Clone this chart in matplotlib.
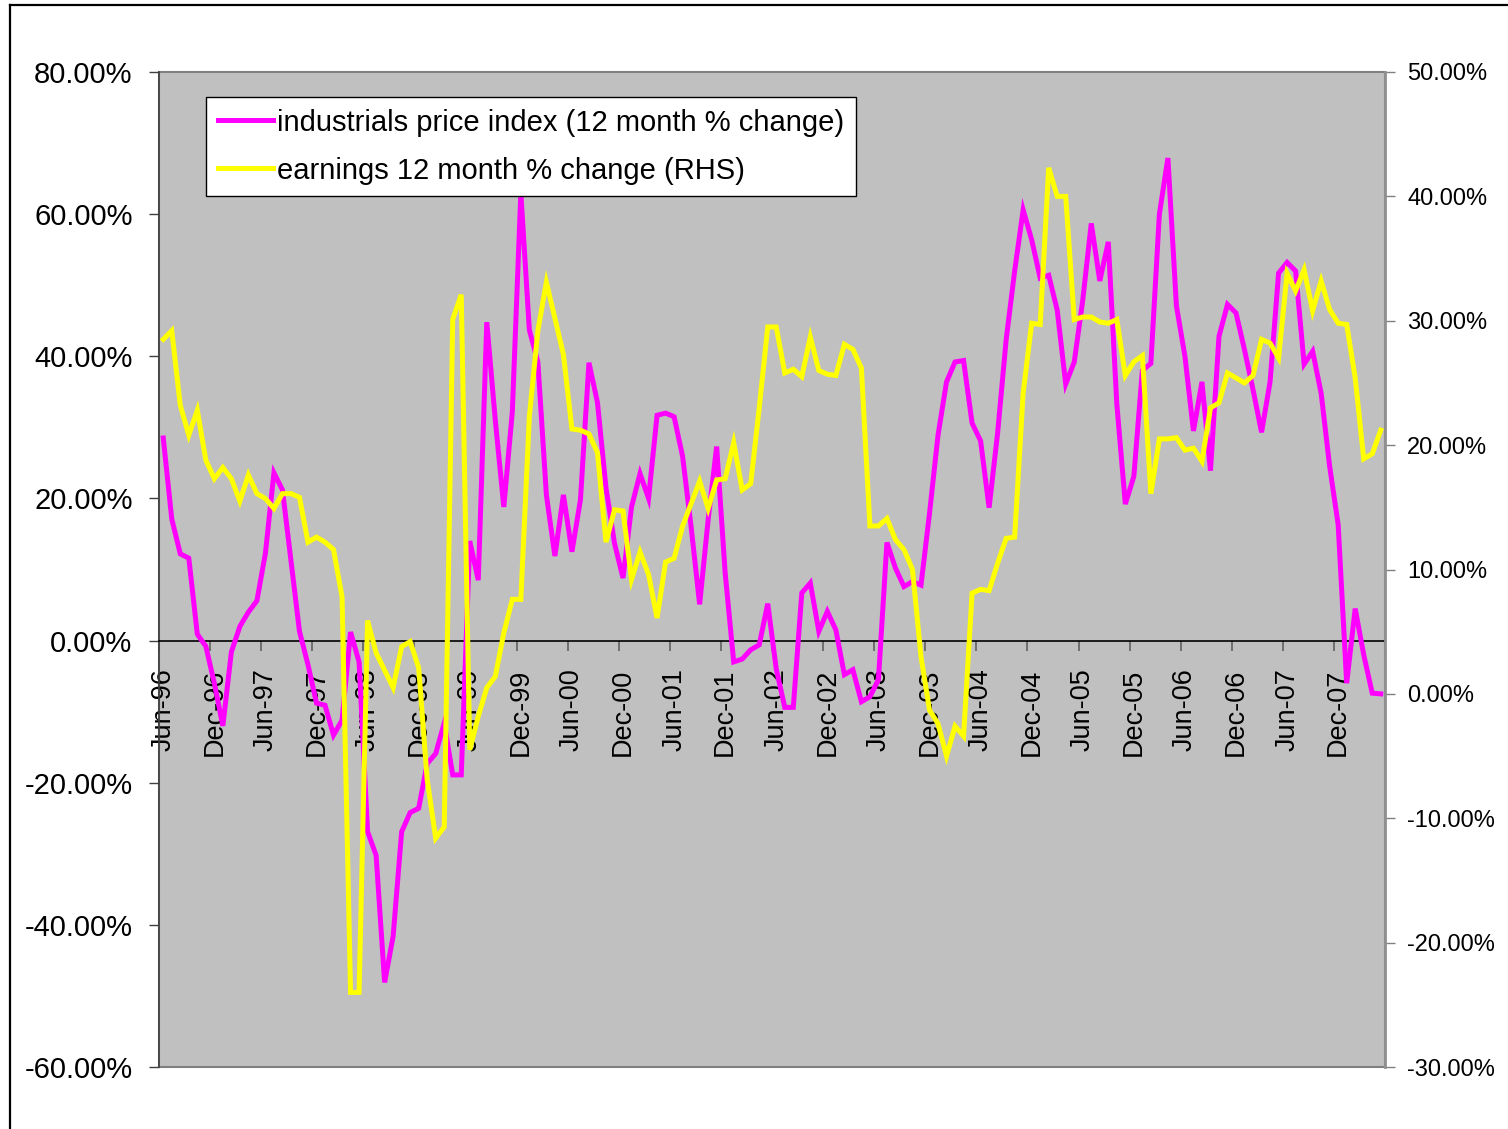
import matplotlib
matplotlib.use("Agg")
import matplotlib.pyplot as plt
import numpy as np
import pandas as pd
from matplotlib.lines import Line2D
from matplotlib.ticker import FuncFormatter, FixedLocator

plt.rcParams["font.family"] = ["Liberation Sans", "DejaVu Sans"]

# monthly observations, Jun-96 .. May-08
months = pd.date_range("1996-06-01", periods=144, freq="MS")
month_labels = [d.strftime("%b-%y") for d in months]

# industrials price index, 12 month % change (left axis)
price_chg = [
    28.5, 17.1, 12.2, 11.6, 0.9, -0.8, -6.0, -12.0, -1.6, 2.0, 4.0, 5.6,
    12.3, 23.6, 21.2, 11.3, 1.3, -3.4, -8.8, -9.1, -13.3, -11.2, 1.2, -3.0,
    -26.9, -30.2, -48.1, -41.6, -26.9, -24.2, -23.6, -17.3, -15.9, -11.6, -18.9, -18.9,
    14.0, 8.5, 44.8, 31.0, 18.8, 32.2, 63.0, 43.7, 39.2, 20.5, 11.9, 20.5,
    12.5, 19.8, 39.1, 33.5, 21.5, 13.7, 8.8, 18.8, 23.5, 20.0, 31.7, 32.0,
    31.5, 25.9, 16.0, 5.1, 17.0, 27.3, 9.5, -3.0, -2.6, -1.3, -0.6, 5.2,
    -4.0, -9.4, -9.4, 6.7, 8.1, 1.3, 4.1, 1.5, -4.8, -4.1, -8.6, -7.9,
    -5.5, 13.8, 10.2, 7.6, 8.3, 7.8, 17.9, 28.9, 36.4, 39.2, 39.4, 30.6,
    28.1, 18.7, 29.2, 42.3, 52.0, 60.6, 56.4, 51.0, 51.4, 46.5, 36.1, 39.2,
    47.9, 58.7, 50.6, 56.1, 33.3, 19.2, 23.1, 38.0, 39.0, 60.0, 67.9, 47.1,
    40.0, 29.5, 36.4, 23.9, 42.8, 47.3, 46.1, 40.9, 35.3, 29.3, 36.4, 51.7,
    53.2, 52.0, 38.9, 40.7, 34.8, 24.5, 16.3, -6.0, 4.5, -2.0, -7.4, -7.5,
]

# earnings 12 month % change (right axis)
earnings_chg = [
    28.5, 29.2, 23.2, 20.8, 22.8, 18.8, 17.3, 18.2, 17.3, 15.5, 17.6, 16.1,
    15.7, 14.9, 16.1, 16.1, 15.8, 12.2, 12.6, 12.2, 11.6, 7.8, -24.0, -24.0,
    5.9, 3.3, 1.9, 0.5, 3.8, 4.2, 2.1, -6.9, -11.6, -10.7, 30.1, 32.1,
    -4.5, -1.8, 0.5, 1.4, 4.9, 7.6, 7.6, 22.3, 29.2, 33.1, 30.2, 27.3,
    21.3, 21.2, 20.9, 19.4, 12.2, 14.8, 14.7, 9.2, 11.4, 9.6, 6.1, 10.6,
    10.9, 13.5, 15.3, 17.1, 14.9, 17.2, 17.3, 20.2, 16.4, 16.9, 23.0, 29.5,
    29.5, 25.8, 26.1, 25.5, 28.7, 26.0, 25.7, 25.6, 28.1, 27.7, 26.2, 13.5,
    13.5, 14.1, 12.4, 11.6, 10.0, 3.0, -1.3, -2.4, -5.0, -2.6, -3.4, 8.1,
    8.4, 8.3, 10.5, 12.5, 12.6, 24.2, 29.8, 29.7, 42.3, 40.0, 40.0, 30.1,
    30.3, 30.3, 29.9, 29.8, 30.1, 25.6, 26.7, 27.2, 16.1, 20.5, 20.5, 20.6,
    19.6, 19.75, 18.7, 23.0, 23.4, 25.8, 25.4, 25.0, 25.6, 28.5, 28.2, 27.0,
    33.8, 32.4, 34.1, 30.8, 33.2, 30.9, 29.8, 29.7, 25.4, 18.9, 19.3, 21.2,
]

price_label = "industrials price index (12 month % change)"
earnings_label = "earnings 12 month % change (RHS)"

left_ticks = [-60, -40, -20, 0, 20, 40, 60, 80]
right_ticks = [-30, -20, -10, 0, 10, 20, 30, 40, 50]

W, H = 1508, 1129
fig = plt.figure(figsize=(W / 100, H / 100), dpi=100)
fig.patch.set_facecolor("white")

# outer chart border (top and left visible)
fig.add_artist(Line2D([10 / W, 10 / W], [0, 1 - 5 / H], color="black", lw=1.6))
fig.add_artist(Line2D([10 / W, 1], [1 - 5 / H, 1 - 5 / H], color="black", lw=1.6))

ax = fig.add_axes([159 / W, 1 - 1067 / H, (1385 - 159) / W, (1067 - 72) / H])
ax.set_facecolor("#C0C0C0")
ax.patch.set_edgecolor("#808080")
ax.patch.set_linewidth(1.5)
ax.set_axisbelow(True)

x = np.arange(len(months))
ax.plot(x, price_chg, color="#FF00FF", lw=3.6, solid_joinstyle="miter", zorder=3)
ax.set_xlim(-0.5, len(months) - 0.5)
ax.set_ylim(-60, 80)
ax.set_yticks(left_ticks)
ax.yaxis.set_major_formatter(FuncFormatter(lambda v, p: f"{v:.2f}%"))
ax.tick_params(axis="y", direction="out", length=7, width=1, pad=12,
               labelsize=21, color="#404040")

for s in ["top", "right"]:
    ax.spines[s].set_visible(False)
ax.spines["left"].set_color("#404040")
ax.spines["left"].set_linewidth(1.2)
ax.spines["bottom"].set_position(("data", 0))
ax.spines["bottom"].set_color("black")
ax.spines["bottom"].set_linewidth(1.2)

# tick marks between categories, labels on categories
ax.xaxis.set_major_locator(FixedLocator(np.arange(-0.5, len(months), 6)))
ax.set_xticks(x[::6], [month_labels[i] for i in x[::6]], minor=True)
ax.tick_params(axis="x", which="major", direction="out", length=7, width=1.2,
               color="#606060", labelbottom=False)
ax.tick_params(axis="x", which="minor", length=0, pad=20, labelsize=19.5,
               labelrotation=90)
for lab in ax.get_xticklabels(minor=True):
    lab.set_verticalalignment("top")

ax2 = ax.twinx()
ax2.plot(x, earnings_chg, color="#FFFF00", lw=3.6, solid_joinstyle="miter", zorder=3)
ax2.set_ylim(-30, 50)
ax2.set_yticks(right_ticks)
ax2.yaxis.set_major_formatter(FuncFormatter(lambda v, p: f"{v:.2f}%"))
ax2.tick_params(axis="y", direction="out", length=7, width=1, pad=9,
                labelsize=17, color="#808080")
for s in ["top", "bottom", "left"]:
    ax2.spines[s].set_visible(False)
ax2.spines["right"].set_color("#909090")
ax2.spines["right"].set_linewidth(2)

handles = [
    Line2D([], [], color="#FF00FF", lw=3.6),
    Line2D([], [], color="#FFFF00", lw=3.6),
]
leg = ax2.legend(handles, [price_label, earnings_label], loc="upper left",
                 bbox_to_anchor=((206 - 159) / 1226, 1 - (97 - 72) / 995),
                 fontsize=21, frameon=True, fancybox=False, framealpha=1,
                 edgecolor="black", facecolor="white", handlelength=1.9,
                 handletextpad=0.15, labelspacing=0.68, borderpad=0.4,
                 borderaxespad=0)
leg.get_frame().set_linewidth(1)

fig.savefig("out.png", dpi=100, facecolor="white")
